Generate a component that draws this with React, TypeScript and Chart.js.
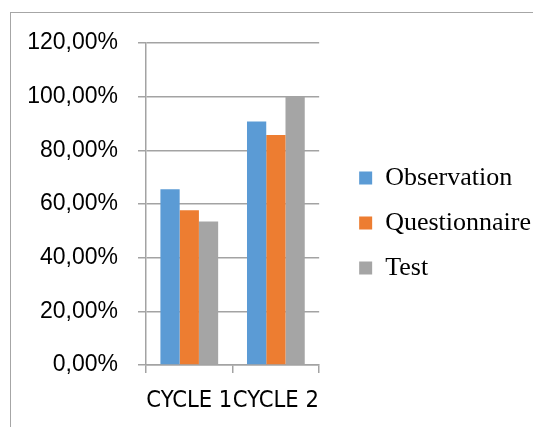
import { useEffect, useRef } from 'react';
import { Chart, registerables } from 'chart.js';

Chart.register(...registerables);

const categories = ['CYCLE 1', 'CYCLE 2'];
const seriesNames = ['Observation', 'Questionnaire', 'Test'];
const observation = [65.5, 90.7];
const questionnaire = [57.7, 85.7];
const test = [53.5, 100];
const seriesColors = ['#5B9BD5', '#ED7D31', '#A5A5A5'];
const yMin = 0;
const yMax = 120;
const yStep = 20;

const formatPct = (v: number) => v.toFixed(2).replace('.', ',') + '%';

const legendShift = {
  id: 'legendShift',
  afterLayout(chart: any) {
    const l = chart.legend;
    if (l) {
      l.left = chart.chartArea.right + 21;
      l.right = l.left + l.width;
      l.top -= 12;
      l.bottom -= 12;
    }
  },
};

export default function App() {
  const ref = useRef<HTMLCanvasElement | null>(null);

  useEffect(() => {
    if (!ref.current) return;
    const gridColor = '#a3a3a3';
    const chart = new Chart(ref.current, {
      type: 'bar',
      data: {
        labels: categories,
        datasets: [observation, questionnaire, test].map((d, i) => ({
          label: seriesNames[i],
          data: d,
          backgroundColor: seriesColors[i],
          borderWidth: 0,
          categoryPercentage: 0.667,
          barPercentage: 1,
        })),
      },
      options: {
        responsive: false,
        animation: false,
        devicePixelRatio: 1,
        layout: { padding: { top: 43, bottom: 0, left: 0, right: 13 } },
        plugins: {
          tooltip: { enabled: false },
          legend: {
            position: 'right',
            align: 'center',
            maxWidth: 320,
            labels: {
              boxWidth: 13,
              boxHeight: 13,
              padding: 19,
              color: '#000',
              font: { family: "'Liberation Serif', 'Times New Roman', serif", size: 26 },
            },
          },
        },
        scales: {
          x: {
            grid: {
              drawOnChartArea: false,
              drawTicks: true,
              tickLength: 8,
              color: gridColor,
              lineWidth: 1.5,
            },
            border: { display: true, color: gridColor, width: 1.5 },
            ticks: {
              color: '#000',
              autoSkip: false,
              maxRotation: 0,
              minRotation: 0,
              padding: 14,
              font: { family: "'DejaVu Sans Condensed', 'Liberation Sans', sans-serif", size: 23.5 },
            },
            afterFit(scale: any) {
              scale.height = 62;
            },
          },
          y: {
            min: yMin,
            max: yMax,
            ticks: {
              stepSize: yStep,
              color: '#000',
              padding: 20,
              font: { family: "'Liberation Sans', Arial, sans-serif", size: 23 },
              callback: (v: any) => formatPct(Number(v)),
            },
            grid: {
              color: gridColor,
              lineWidth: 1.5,
              drawTicks: true,
              tickLength: 8,
            },
            border: { display: true, color: gridColor, width: 1.5 },
            afterFit(scale: any) {
              scale.width = 146;
            },
          },
        },
      },
      plugins: [legendShift],
    } as any);
    return () => chart.destroy();
  }, []);

  return (
    <div
      style={{
        position: 'fixed',
        left: 0,
        top: 0,
        width: 533,
        height: 427,
        overflow: 'hidden',
        background: '#fff',
      }}
    >
      <div
        style={{
          position: 'absolute',
          left: 10,
          top: 12,
          width: 600,
          height: 500,
          border: '1px solid #a6a6a6',
        }}
      />
      <canvas
        ref={ref}
        width={533}
        height={427}
        style={{ position: 'absolute', left: 0, top: 0 }}
      />
    </div>
  );
}
